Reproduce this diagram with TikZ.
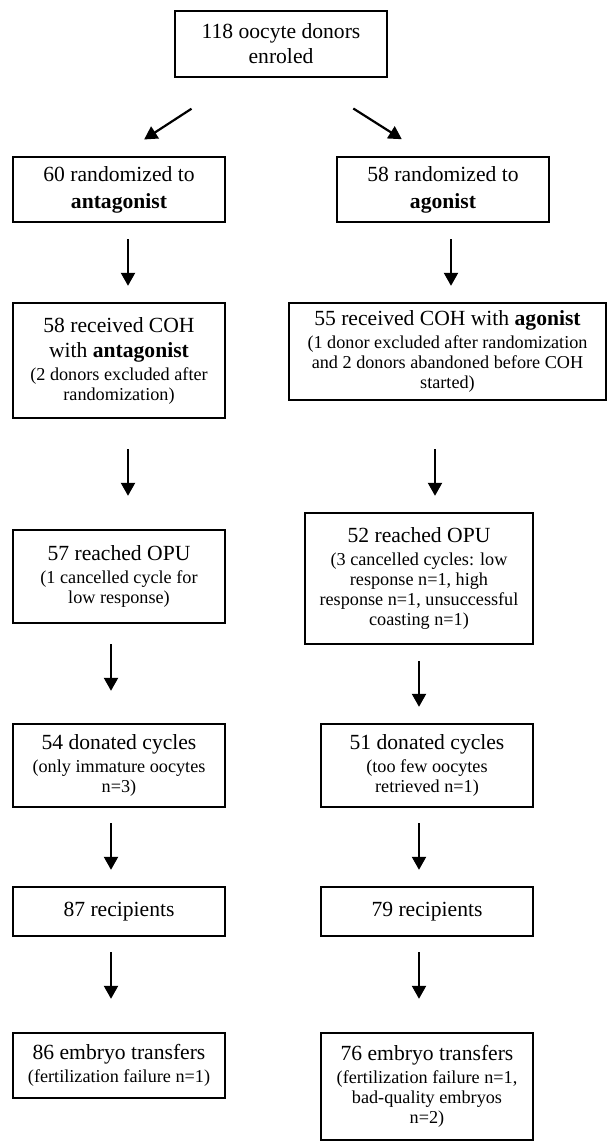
\documentclass[tikz,border=0pt]{standalone}
\usepackage{fontspec}
\setmainfont{Liberation Serif}
\usetikzlibrary{arrows.meta,calc}

\newcommand\fsmain{\fontsize{10.8}{12.5}\selectfont}
\newcommand\fsnote{\fontsize{9.1}{10}\selectfont}

\begin{document}
\begin{tikzpicture}[x = 0.5pt, y = -0.5pt,
	box/.style = {draw, line width = 1.2pt, align = center, inner sep = 0pt, minimum width = 106pt, font = \fsmain},
	arr/.style = {line width = 1.1pt, -{Triangle[width = 7pt, length = 6.5pt]}}]
	\useasboundingbox (0,0) rectangle (608,1142);

	\node[box, minimum height = 33pt](start) at (281,44) {118 oocyte donors\\enroled};

	% antagonist arm
	\node[box, minimum height = 32.5pt](L1) at (119,189.5) {60 randomized to\\[1pt]\textbf{antagonist}};	%1
	\node[box, minimum height = 57.5pt](L2) at (119,360.5) {58 received COH\\with \textbf{antagonist}\\[-1pt]{\fsnote (2 donors excluded after}\\[-2.5pt]{\fsnote randomization)}};	%2
	\node[box, minimum height = 46.5pt](L3) at (119,576.5) {57 reached OPU\\[-1pt]{\fsnote (1 cancelled cycle for}\\[-2.5pt]{\fsnote low response)}};	%3
	\node[box, minimum height = 41.5pt](L4) at (119,765.5) {54 donated cycles\\[-1pt]{\fsnote (only immature oocytes}\\[-2.5pt]{\fsnote n=3)}};	%4
	\node[box, minimum height = 24.5pt](L5) at (119,911.5) {87 recipients};	%5
	\node[box, minimum height = 32.5pt](L6) at (119,1065.5) {86 embryo transfers\\[-1pt]{\fsnote (fertilization failure n=1)}};	%6

	% agonist arm
	\node[box, minimum height = 32.5pt](R1) at (443,189.5) {58 randomized to\\[1pt]\textbf{agonist}};	%1
	\node[box, minimum height = 48.5pt, minimum width = 158.5pt](R2) at (447.5,351.5) {55 received COH with \textbf{agonist}\\[-1pt]{\fsnote (1 donor excluded after randomization}\\[-2.5pt]{\fsnote and 2 donors abandoned before COH}\\[-2.5pt]{\fsnote started)}};	%2
	\node[box, minimum height = 65.5pt, minimum width = 114pt](R3) at (419,578.5) {52 reached OPU\\[-1pt]{\fsnote (3 cancelled cycles: low}\\[-2.5pt]{\fsnote response n=1, high}\\[-2.5pt]{\fsnote response n=1, unsuccessful}\\[-2.5pt]{\fsnote coasting n=1)}};	%3
	\node[box, minimum height = 41.5pt](R4) at (427,765.5) {51 donated cycles\\[-1pt]{\fsnote (too few oocytes}\\[-2.5pt]{\fsnote retrieved n=1)}};	%4
	\node[box, minimum height = 24.5pt](R5) at (427,911.5) {79 recipients};	%5
	\node[box, minimum height = 53.5pt](R6) at (427,1086.5) {76 embryo transfers\\[-1pt]{\fsnote (fertilization failure n=1,}\\[-2.5pt]{\fsnote bad-quality embryos}\\[-2.5pt]{\fsnote n=2)}};	%6

	% arrows
	\draw[arr, shorten <= 28pt, shorten >= 15pt] ($(start.south)+(-42.5,0)$) -- (L1.north);
	\draw[arr, shorten <= 28.3pt, shorten >= 15.5pt] ($(start.south)+(24.5,0)$) -- ($(R1.north)+(-15,0)$);

	\draw[arr, shorten <= 8pt, shorten >= 8pt] ($(L1.south)+(9,0)$) -- ($(L2.north)+(9,0)$);
	\draw[arr, shorten <= 15pt, shorten >= 16.5pt] ($(L2.south)+(9,0)$) -- ($(L3.north)+(9,0)$);
	\draw[arr, shorten <= 10pt, shorten >= 16pt] ($(L3.south)+(-8,0)$) -- ($(L4.north)+(-8,0)$);
	\draw[arr, shorten <= 7.5pt, shorten >= 8pt] ($(L4.south)+(-8,0)$) -- ($(L5.north)+(-8,0)$);
	\draw[arr, shorten <= 7.5pt, shorten >= 16.5pt] ($(L5.south)+(-8,0)$) -- ($(L6.north)+(-8,0)$);

	\draw[arr, shorten <= 8pt, shorten >= 8pt] ($(R1.south)+(8,0)$) -- ($(R2.north)+(3.5,0)$);
	\draw[arr, shorten <= 24pt, shorten >= 8pt] ($(R2.south)+(-12.5,0)$) -- ($(R3.north)+(16,0)$);
	\draw[arr, shorten <= 8pt, shorten >= 8pt] (R3.south) -- ($(R4.north)+(-8,0)$);
	\draw[arr, shorten <= 7.5pt, shorten >= 8pt] ($(R4.south)+(-8,0)$) -- ($(R5.north)+(-8,0)$);
	\draw[arr, shorten <= 7.5pt, shorten >= 16.5pt] ($(R5.south)+(-8,0)$) -- ($(R6.north)+(-8,0)$);
\end{tikzpicture}
\end{document}
